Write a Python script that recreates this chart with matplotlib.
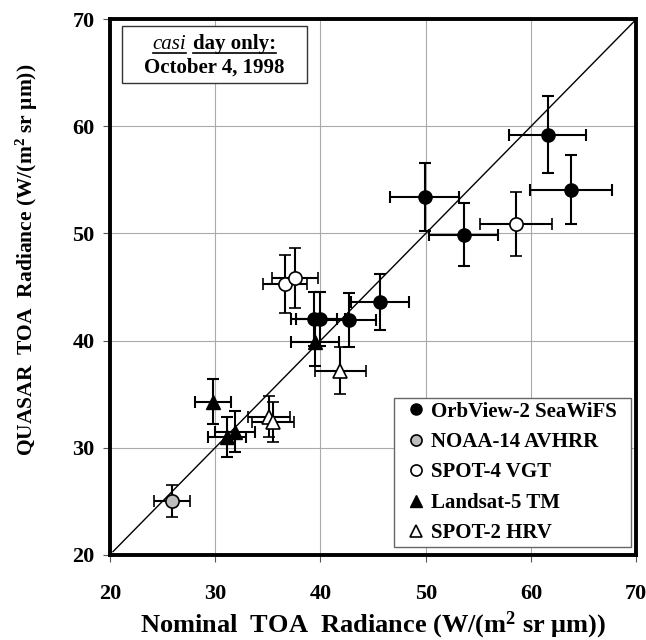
import matplotlib
matplotlib.use("Agg")
import matplotlib.pyplot as plt
from matplotlib.lines import Line2D
from matplotlib.patches import Rectangle

# ---- data ----
seawifs_x = [61.6, 63.8, 49.9, 53.6, 45.7, 42.7, 39.4, 40.0]
seawifs_y = [59.2, 54.1, 53.4, 49.9, 43.6, 41.9, 42.0, 42.0]
seawifs_xerr = [3.65, 3.85, 3.3, 3.25, 2.75, 2.6, 2.2, 2.3]
seawifs_yerr = [3.6, 3.2, 3.2, 2.9, 2.6, 2.5, 2.5, 2.5]

avhrr_x = [25.9]
avhrr_y = [25.0]
avhrr_xerr = [1.7]
avhrr_yerr = [1.5]

vgt_x = [36.6, 37.6, 58.6]
vgt_y = [45.3, 45.8, 50.9]
vgt_xerr = [2.1, 2.2, 3.4]
vgt_yerr = [2.7, 2.8, 3.0]

tm_x = [29.8, 31.1, 31.9, 39.5]
tm_y = [34.3, 31.0, 31.5, 39.9]
tm_xerr = [1.75, 1.8, 1.9, 2.3]
tm_yerr = [2.1, 1.9, 1.9, 2.3]

hrv_x = [35.1, 35.5, 41.9]
hrv_y = [32.9, 32.4, 37.2]
hrv_xerr = [2.0, 2.0, 2.4]
hrv_yerr = [1.9, 1.9, 2.2]

labels = ["OrbView-2 SeaWiFS", "NOAA-14 AVHRR", "SPOT-4 VGT", "Landsat-5 TM", "SPOT-2 HRV"]
ticks = [20, 30, 40, 50, 60, 70]

serif = ["Liberation Serif", "DejaVu Serif"]
plt.rcParams["font.family"] = serif
plt.rcParams["mathtext.fontset"] = "custom"
plt.rcParams["mathtext.rm"] = "Liberation Serif:bold"
plt.rcParams["mathtext.bf"] = "Liberation Serif:bold"
plt.rcParams["mathtext.it"] = "Liberation Serif:bold"

fig = plt.figure(figsize=(6.46, 6.40), dpi=100)
ax = fig.add_axes([0.170, 0.133, 0.815, 0.837])
ax.set_xlim(20, 70)
ax.set_ylim(20, 70)

ax.grid(True, color="#aaaaaa", linewidth=0.8)
ax.set_axisbelow(True)

# 1:1 line
ax.plot([20.3, 70], [20.3, 70], color="black", linewidth=1.0, zorder=2)

eb = dict(ecolor="black", elinewidth=1.5, capsize=4, capthick=1.5, linestyle="none", zorder=3)
ms = 9.5
ax.errorbar(seawifs_x, seawifs_y, xerr=seawifs_xerr, yerr=seawifs_yerr, fmt="o",
            mfc="black", mec="black", ms=ms, **eb)
ax.errorbar(avhrr_x, avhrr_y, xerr=avhrr_xerr, yerr=avhrr_yerr, fmt="o",
            mfc="#bdbdbd", mec="black", mew=1.2, ms=ms, **eb)
ax.errorbar(vgt_x, vgt_y, xerr=vgt_xerr, yerr=vgt_yerr, fmt="o",
            mfc="white", mec="black", mew=1.2, ms=ms, **eb)
ax.errorbar(tm_x, tm_y, xerr=tm_xerr, yerr=tm_yerr, fmt="^",
            mfc="black", mec="black", ms=ms, **eb)
ax.errorbar(hrv_x, hrv_y, xerr=hrv_xerr, yerr=hrv_yerr, fmt="^",
            mfc="white", mec="black", mew=1.2, ms=ms, **eb)

ax.set_xticks(ticks)
ax.set_yticks(ticks)
ax.tick_params(direction="out", length=5, width=0.8, color="#555555", labelsize=16)
ax.tick_params(axis="x", pad=16)
ax.tick_params(axis="y", pad=6)
for lab in ax.get_xticklabels() + ax.get_yticklabels():
    lab.set_fontweight("bold")
for s in ax.spines.values():
    s.set_linewidth(2.8)
    s.set_color("black")

ax.set_xlabel("Nominal  TOA  Radiance (W/(m$^{2}$ sr \u03bcm))",
              fontsize=19, fontweight="bold", labelpad=4)
ax.set_ylabel("QUASAR  TOA  Radiance (W/(m$^{2}$ sr \u03bcm))",
              fontsize=15.5, fontweight="bold")
ax.yaxis.set_label_coords(-0.133, 0.55)

# legend with its own frame
legbox = Rectangle((0.540, 0.015), 0.449, 0.278, transform=ax.transAxes,
                   facecolor="white", edgecolor="#666666", linewidth=1.0, zorder=4)
ax.add_patch(legbox)
handles = [
    Line2D([], [], marker="o", ls="none", mfc="black", mec="black", ms=8),
    Line2D([], [], marker="o", ls="none", mfc="#bdbdbd", mec="black", mew=1.2, ms=8),
    Line2D([], [], marker="o", ls="none", mfc="white", mec="black", mew=1.2, ms=8),
    Line2D([], [], marker="^", ls="none", mfc="black", mec="black", ms=8),
    Line2D([], [], marker="^", ls="none", mfc="white", mec="black", mew=1.2, ms=8),
]
leg = ax.legend(handles, labels, loc="center", bbox_to_anchor=(0.764, 0.154),
                borderaxespad=0, frameon=False, handlelength=0.8, handletextpad=0.3,
                labelspacing=0.5, borderpad=0.0,
                prop={"family": serif, "weight": "bold", "size": 15})
leg.set_zorder(5)

# annotation box
box = Rectangle((0.024, 0.88), 0.35, 0.107, transform=ax.transAxes,
                facecolor="white", edgecolor="#333333", linewidth=1.0, zorder=4)
ax.add_patch(box)
t1 = ax.text(0.0, 0.0, "casi", transform=ax.transAxes, fontsize=15,
             style="italic", fontweight="normal", zorder=6)
t2 = ax.text(0.0, 0.0, "day only:", transform=ax.transAxes, fontsize=15,
             fontweight="bold", zorder=6)
t3 = ax.text(0.199, 0.91, "October 4, 1998", transform=ax.transAxes, fontsize=15,
             fontweight="bold", ha="center", va="center", zorder=6)
fig.canvas.draw()
r = fig.canvas.get_renderer()
inv = ax.transAxes.inverted()
w1 = t1.get_window_extent(r)
w2 = t2.get_window_extent(r)
gap_px = 7
total = w1.width + gap_px + w2.width
cx = ax.transAxes.transform((0.199, 0.0))[0]
x0 = cx - total / 2
yline = ax.transAxes.transform((0.0, 0.953))[1]
t1.set_position(inv.transform((x0, yline)))
t2.set_position(inv.transform((x0 + w1.width + gap_px, yline)))
t1.set_va("center"); t2.set_va("center")
fig.canvas.draw()
w1 = t1.get_window_extent(r)
w2 = t2.get_window_extent(r)
uy = w2.y0 + 1
for w in (w1, w2):
    p0 = inv.transform((w.x0, uy))
    p1 = inv.transform((w.x1, uy))
    ax.add_line(Line2D([p0[0], p1[0]], [p0[1], p1[1]], transform=ax.transAxes,
                       color="black", linewidth=1.2, zorder=6, clip_on=False))

fig.savefig("out.png", dpi=100)
